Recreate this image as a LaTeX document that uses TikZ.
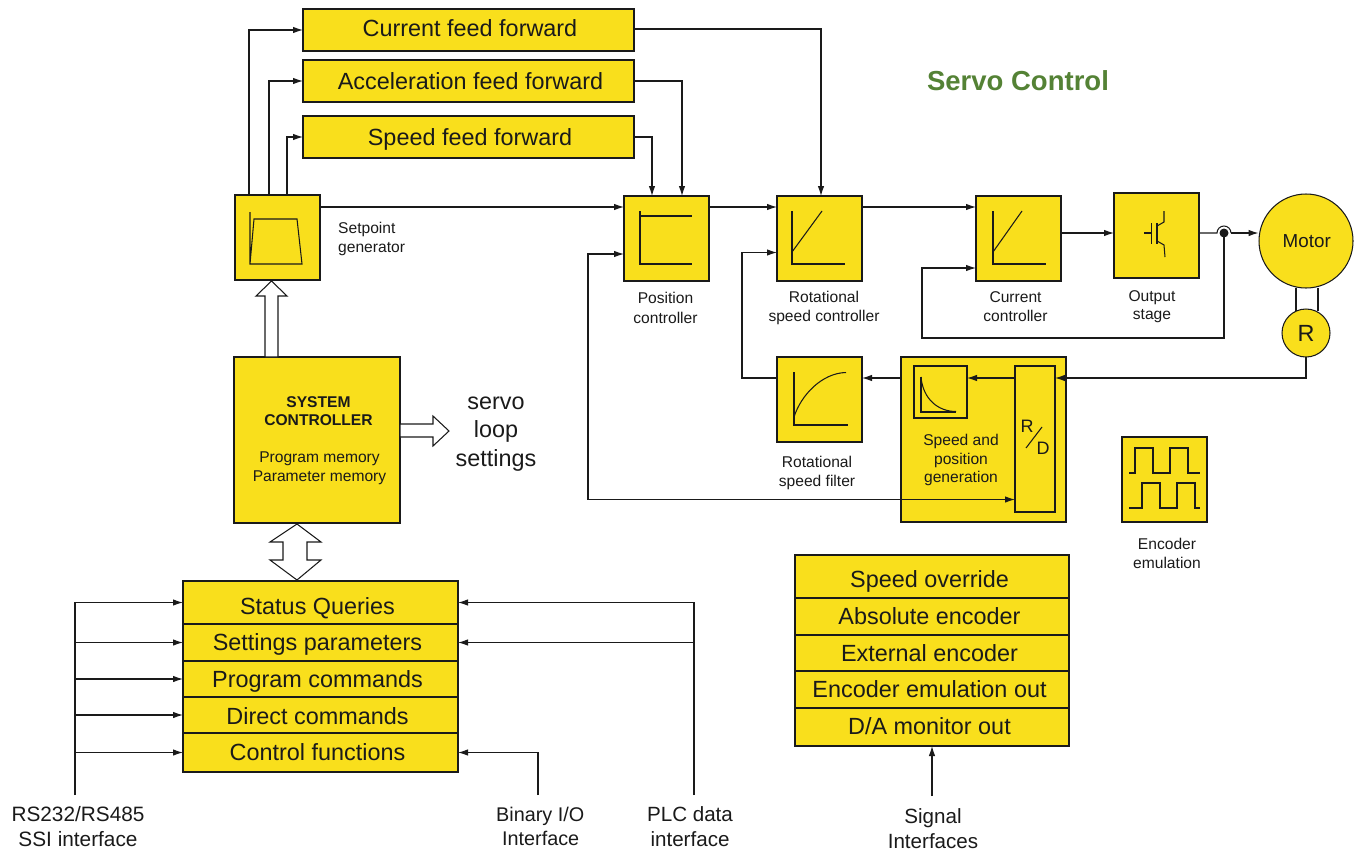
\documentclass[tikz,border=0pt]{standalone}
\usepackage{fontspec}
\setmainfont{Liberation Sans}
\usetikzlibrary{arrows.meta,calc}
\definecolor{ybox}{HTML}{F9DF1C}
\definecolor{ink}{HTML}{1A1A1A}
\definecolor{titlegreen}{HTML}{548235}
\newcommand{\fs}[1]{\fontsize{#1}{#1}\selectfont}
\newcommand{\ybox}[5]{\node[yb,anchor=north west,minimum width={(#4-#2)*1pt},minimum height={(#5-#3)*1pt}] (#1) at (#2,#3) {};}
\tikzset{
  yb/.style={draw=ink,fill=ybox,line width=1.05pt,inner sep=0pt,outer sep=0pt,text=ink,align=center},
  rowtxt/.style={text=ink,font=\fs{23.4},anchor=base,inner sep=0pt},
  lab/.style={text=ink,font=\fs{15.6},align=center,inner sep=0pt},
  big/.style={text=ink,font=\fs{20.6},align=center,inner sep=0pt},
  ln/.style={draw=ink,line width=1.05pt},
  arr/.style={ln,-{Latex[length=10pt,width=6.5pt]}},
  darr/.style={ln,{Latex[length=10pt,width=6.5pt]}-{Latex[length=10pt,width=6.5pt]}},
  icon/.style={draw=ink,line width=1.05pt,line join=miter},
  hollow/.style={draw=ink,fill=white,line width=1.05pt,line join=miter},
}
\begin{document}
\begin{tikzpicture}[x=1pt,y=-1pt]
\useasboundingbox (0,0) rectangle (1357,852);
% feed forward
\ybox{cff}{303}{9}{634}{51}
\ybox{aff}{303}{60}{634}{102}
\ybox{sff}{303}{116}{634}{158}
\node[rowtxt] (tcff) at (470,36.4) {Current feed forward};
\node[rowtxt] (taff) at (470.5,89.4) {Acceleration feed forward};
\node[rowtxt] (tsff) at (470,145) {Speed feed forward};
% control chain
\ybox{sg}{235}{195}{320}{280}
\ybox{pos}{624}{196}{709}{281}
\ybox{rot}{777}{196}{862}{281}
\ybox{cur}{976}{196}{1061}{281}
\ybox{out}{1114}{193}{1199}{278}
\ybox{flt}{777}{357}{862}{442}
\ybox{spg}{901}{357}{1066}{522}
\ybox{exq}{914}{366}{967}{418}
\ybox{rd}{1015}{366}{1055}{512}
\ybox{enc}{1122}{437}{1207}{522}
\ybox{sys}{234}{357}{400}{523}
\node[yb,circle,minimum size=94pt,font=\fs{18.8}] (motor) at (1306,241) {\hspace{1.5pt}Motor};
\node[yb,circle,minimum size=48pt,font=\fs{23.4}] (res) at (1306,333) {R};
% interface lists
\ybox{st1}{183}{581}{458}{624}
\ybox{st2}{183}{624}{458}{661}
\ybox{st3}{183}{661}{458}{697}
\ybox{st4}{183}{697}{458}{733}
\ybox{st5}{183}{733}{458}{772}
\node[rowtxt] (tst1) at (317.5,614.4) {Status Queries};
\node[rowtxt] (tst2) at (317.5,650.4) {Settings parameters};
\node[rowtxt] (tst3) at (317.5,687) {Program commands};
\node[rowtxt] (tst4) at (317.5,724) {Direct commands};
\node[rowtxt] (tst5) at (317.5,760.6) {Control functions};
\ybox{si1}{795}{555}{1069}{598}
\ybox{si2}{795}{598}{1069}{635}
\ybox{si3}{795}{635}{1069}{671}
\ybox{si4}{795}{671}{1069}{708}
\ybox{si5}{795}{708}{1069}{746}
\node[rowtxt] (tsi1) at (929.5,587.4) {Speed override};
\node[rowtxt] (tsi2) at (929.5,624.6) {Absolute encoder};
\node[rowtxt] (tsi3) at (929.5,661.4) {External encoder};
\node[rowtxt] (tsi4) at (929.5,697.9) {Encoder emulation out};
\node[rowtxt] (tsi5) at (929.5,734.4) {D/A monitor out};
% labels
\node[text=titlegreen,font=\bfseries\fs{27.5},inner sep=0pt] (title) at (1018,81) {Servo Control};
\node[lab,align=left,anchor=west] (lsg) at (338,239) {Setpoint\\[3pt]generator};
\node[lab] (lpos) at (665.5,308) {Position\\[4pt]controller};
\node[lab] (lrot) at (824,308) {Rotational\\[4pt]speed controller};
\node[lab] (lcur) at (1015.5,306.5) {Current\\[3pt]controller};
\node[lab] (lout) at (1152,306.5) {Output\\[3pt]stage};
\node[lab] (lflt) at (817,473) {Rotational\\[3pt]speed filter};
\node[lab] (lspg) at (961,460) {Speed and\\[3pt]position\\[3pt]generation};
\node[lab] (lenc) at (1167,553.5) {Encoder\\[3pt]emulation};
\node[lab] (lsys) at (318.5,411) {\bfseries SYSTEM\\[3pt]\bfseries CONTROLLER};
\node[lab] (lmem) at (319.5,468) {Program memory\\[3pt]Parameter memory};
\node[big,font=\fs{23.4}] (lloop) at (496,434) {servo\\[5pt]loop\\[5pt]settings};
\node[big,font=\fs{20.8}] (lrs) at (78,826.5) {RS232/RS485\\[4pt]SSI interface};
\node[big,font=\fs{19.8},align=left,anchor=west] (lbin) at (496,826.5) {Binary I/O\\[5pt]\hspace{6pt}Interface};
\node[big] (lplc) at (690,826.5) {PLC data\\[4.5pt]interface};
\node[big] (lsig) at (933,828.5) {Signal\\[4.5pt]Interfaces};
\node[text=ink,font=\fs{18},inner sep=0pt] (lr) at (1027,426.5) {R};
\node[text=ink,font=\fs{18},inner sep=0pt] (ld) at (1043,448.5) {D};
\draw[icon] (1026,448) -- (1042,427);
% connectors: feed forward
\draw[arr] ([xshift=14pt]sg.north west) |- (cff.west);
\draw[arr] ([xshift=34pt]sg.north west) |- (aff.west);
\draw[arr] ([xshift=52pt]sg.north west) |- (sff.west);
\draw[arr] (cff.east |- 0,29) -| ([xshift=44pt]rot.north west);
\draw[arr] (aff.east) -| ([xshift=58pt]pos.north west);
\draw[arr] (sff.east) -| ([xshift=28pt]pos.north west);
% forward chain
\coordinate (posin) at ([yshift=-11pt]pos.north west);
\coordinate (rotin) at ([yshift=-11pt]rot.north west);
\coordinate (curin) at ([yshift=-11pt]cur.north west);
\coordinate (curfb) at ([yshift=-72pt]cur.north west);
\coordinate (rotfb) at ([yshift=-56.5pt]rot.north west);
\coordinate (posfb) at ([yshift=-58pt]pos.north west);
\coordinate (outin) at ([yshift=-40pt]out.north west);
\coordinate (node) at (1224,233);
\coordinate (motin) at (1258.5,233);
\draw[arr] (sg.east |- posin) -- (posin);
\draw[arr] (pos.east |- rotin) -- (rotin);
\draw[arr] (rot.east |- curin) -- (curin);
\draw[arr] (cur.east |- outin) -- (outin);
\draw[ln] (out.east |- node) -- ([xshift=-7pt]node) arc[start angle=180,end angle=0,radius=7pt];
\draw[arr] ([xshift=7pt]node) -- (motin);
\draw[arr] (node) -- (node |- 0,338) -| (922,268) -- (curfb);
\fill[ink] (node) circle (4.5pt);
% motor and resolver
\draw[ln] (1296,287.5) -- (1296,311);
\draw[ln] (1318,287.5) -- (1318,311);
\coordinate (rdin) at (1055,378);
\coordinate (exin) at (967,378);
\draw[arr] (res.south) |- (rdin);
\draw[arr] (rd.west |- rdin) -- (exin);
\draw[arr] (spg.west |- rdin) -- (flt.east |- rdin);
\draw[arr] (flt.west |- rdin) -| (742,252.5) -- (rotfb);
\draw[darr] (posfb) -| (588,499.5) -- (rd.west |- 0,499.5);
% system controller hollow arrows
\draw[hollow] (265,357) -- (265,296) -- (256,296) -- (271.5,281) -- (287,296) -- (278,296) -- (278,357) -- cycle;
\draw[hollow] (400,424) -- (433,424) -- (433,416) -- (449,431) -- (433,446) -- (433,437) -- (400,437) -- cycle;
\draw[hollow] (297,524) -- (321,542) -- (307,542) -- (307,560) -- (321,560) -- (297,580) -- (270,560) -- (283,560) -- (283,542) -- (270,542) -- cycle;
% interface connectors
\coordinate (rsbot) at (75,795);
\coordinate (binbot) at (538,795);
\coordinate (plcbot) at (694,795);
\coordinate (sigbot) at (932,796);
\draw[arr] (rsbot) |- (st1.west);
\draw[arr] (rsbot |- st2.west) -- (st2.west);
\draw[arr] (rsbot |- st3.west) -- (st3.west);
\draw[arr] (rsbot |- st4.west) -- (st4.west);
\draw[arr] (rsbot |- st5.west) -- (st5.west);
\draw[arr] (plcbot) |- (st1.east);
\draw[arr] (plcbot |- st2.east) -- (st2.east);
\draw[arr] (binbot) |- (st5.east);
\draw[arr] (sigbot) -- (sigbot |- si5.south);
% icons
\draw[icon] (250,212) -- (250,264) -- (302,264) -- (297,219) -- (254,219) -- (250,264);
\draw[icon] (640,211) -- (640,264) -- (692,264);
\draw[icon] (640,216) -- (692,216);
\draw[icon] (792,211) -- (792,264) -- (845,264);
\draw[icon] (792,252) -- (822,211);
\draw[icon] (993,211) -- (993,264) -- (1046,264);
\draw[icon] (993,252) -- (1022,211);
\draw[icon] (794,372) -- (794,425) -- (848,425);
\draw[icon] (794,417) .. controls (801,395) and (822,373) .. (846,372.5);
\draw[icon] (921,377) -- (921,412) -- (956,412);
\draw[icon] (921,377) .. controls (923,399) and (938,411.5) .. (956,411.5);
\draw[icon] (1144,233) -- (1151,233) (1151.5,223) -- (1151.5,244);
\draw[icon] (1157,223) -- (1157,244);
\draw[icon] (1157,226) -- (1164,222) -- (1164,211);
\draw[icon] (1157,241) -- (1164,245) -- (1165,257);
\draw[icon] (1129,473) -- (1135,473) -- (1135,448) -- (1153,448) -- (1153,473) -- (1170,473) -- (1170,448) -- (1188,448) -- (1188,473) -- (1200,473);
\draw[icon] (1129,508) -- (1142,508) -- (1142,483) -- (1160,483) -- (1160,508) -- (1177,508) -- (1177,483) -- (1195,483) -- (1195,508) -- (1200,508);
\end{tikzpicture}
\end{document}
